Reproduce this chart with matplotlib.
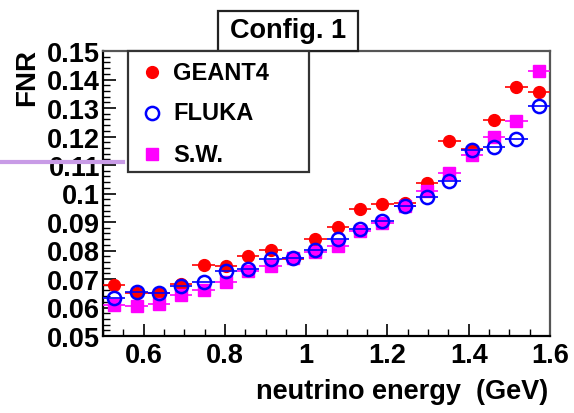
import matplotlib
matplotlib.use("Agg")
import matplotlib.pyplot as plt
from matplotlib.patches import Rectangle
from matplotlib.lines import Line2D
from matplotlib.ticker import MultipleLocator

plt.rcParams['font.family'] = ['Liberation Sans', 'DejaVu Sans']
plt.rcParams['font.weight'] = 'bold'

# bin centres (GeV), width 0.055
energy = [0.5275 + 0.055 * i for i in range(20)]
half_bin = 0.0275

geant4 = [0.0678, 0.0650, 0.0650, 0.0682, 0.0748, 0.0746, 0.0781, 0.0802, 0.0770, 0.0839,
          0.0883, 0.0946, 0.0962, 0.0967, 0.1037, 0.1183, 0.1156, 0.1259, 0.1375, 0.1355]
fluka = [0.0632, 0.0655, 0.0650, 0.0676, 0.0688, 0.0728, 0.0734, 0.0769, 0.0775, 0.0802,
         0.0839, 0.0876, 0.0903, 0.0956, 0.0988, 0.1043, 0.1154, 0.1163, 0.1191, 0.1308]
sw = [0.0610, 0.0604, 0.0614, 0.0643, 0.0662, 0.0690, 0.0728, 0.0746, 0.0772, 0.0793,
      0.0816, 0.0868, 0.0897, 0.0956, 0.1008, 0.1072, 0.1136, 0.1200, 0.1253, 0.1430]
labels = ['GEANT4', 'FLUKA', 'S.W.']

W, H = 574, 414
fig = plt.figure(figsize=(W / 100, H / 100), dpi=100)
ax = fig.add_axes([103 / W, (H - 337) / H, 447 / W, 285 / H])

red = dict(marker='o', color='red', ms=8.5)
blue = dict(marker='o', color='blue', mfc='none', mew=1.8, ms=9.5)
mag = dict(marker='s', color='magenta', ms=8.5)

ax.errorbar(energy, geant4, xerr=half_bin, ls='none', elinewidth=1.2, capsize=0, zorder=3, **red)
ax.errorbar(energy, sw, xerr=half_bin, ls='none', elinewidth=1.2, capsize=0, zorder=4, **mag)
ax.errorbar(energy, fluka, xerr=half_bin, ls='none', elinewidth=1.2, capsize=0, zorder=5, **blue)

ax.set_xlim(0.5, 1.6)
ax.set_ylim(0.05, 0.15)
ax.xaxis.set_major_locator(MultipleLocator(0.2))
ax.xaxis.set_minor_locator(MultipleLocator(0.05))
ax.yaxis.set_major_locator(MultipleLocator(0.01))
ax.yaxis.set_minor_locator(MultipleLocator(0.002))
ax.xaxis.set_major_formatter(plt.FuncFormatter(lambda v, p: '1' if abs(v - 1) < 1e-9 else '%.1f' % v))
ax.yaxis.set_major_formatter(plt.FuncFormatter(lambda v, p: ('%.2f' % v).rstrip('0').rstrip('.')))
ax.tick_params(which='both', direction='in', top=False, right=False)
ax.tick_params(which='major', length=9, width=1.2, labelsize=19.5)
ax.tick_params(axis='y', which='major', pad=2)
ax.tick_params(axis='x', which='major', pad=4)
ax.tick_params(which='minor', length=5, width=1)
for lab in ax.get_xticklabels() + ax.get_yticklabels():
    lab.set_fontweight('bold')
ax.spines['left'].set_color('black')
ax.spines['bottom'].set_color('black')
ax.spines['top'].set_color('#555555')
ax.spines['right'].set_color('#555555')
for sp in ax.spines.values():
    sp.set_linewidth(1.6)

fig.text(548 / W, 1 - 392 / H, 'neutrino energy  (GeV)', ha='right', va='center',
         fontsize=19.5, fontweight='bold')
fig.text(27 / W, 1 - 49 / H, 'FNR', rotation=90, ha='center', va='top',
         fontsize=20, fontweight='bold')

# legend box, ROOT style
fig.patches.append(Rectangle((128 / W, 1 - 173 / H), 181 / W, 121 / H, transform=fig.transFigure,
                             facecolor='white', edgecolor='#333333', lw=1.6, zorder=10))
for i, (lab, st) in enumerate(zip(labels, [red, blue, mag])):
    yy = 1 - (73 + 41 * i) / H
    fig.lines.append(Line2D([152 / W], [yy], transform=fig.transFigure, ls='none',
                            zorder=11, **st))
    fig.text(173 / W, yy, lab, ha='left', va='center', fontsize=17, fontweight='bold', zorder=11)

# title box
fig.patches.append(Rectangle((218 / W, 1 - 52 / H), 140 / W, 40 / H, transform=fig.transFigure,
                             facecolor='white', edgecolor='#222222', lw=1.6, zorder=5))
fig.text(288 / W, 1 - 31 / H, 'Config. 1', ha='center', va='center', fontsize=19.5,
         fontweight='bold', zorder=6)

# lavender marker line on the left
fig.lines.append(Line2D([0, 123 / W], [1 - 163 / H, 1 - 163 / H], transform=fig.transFigure,
                        color='#c89be6', lw=3, zorder=20))

fig.savefig('out.png', dpi=100)
